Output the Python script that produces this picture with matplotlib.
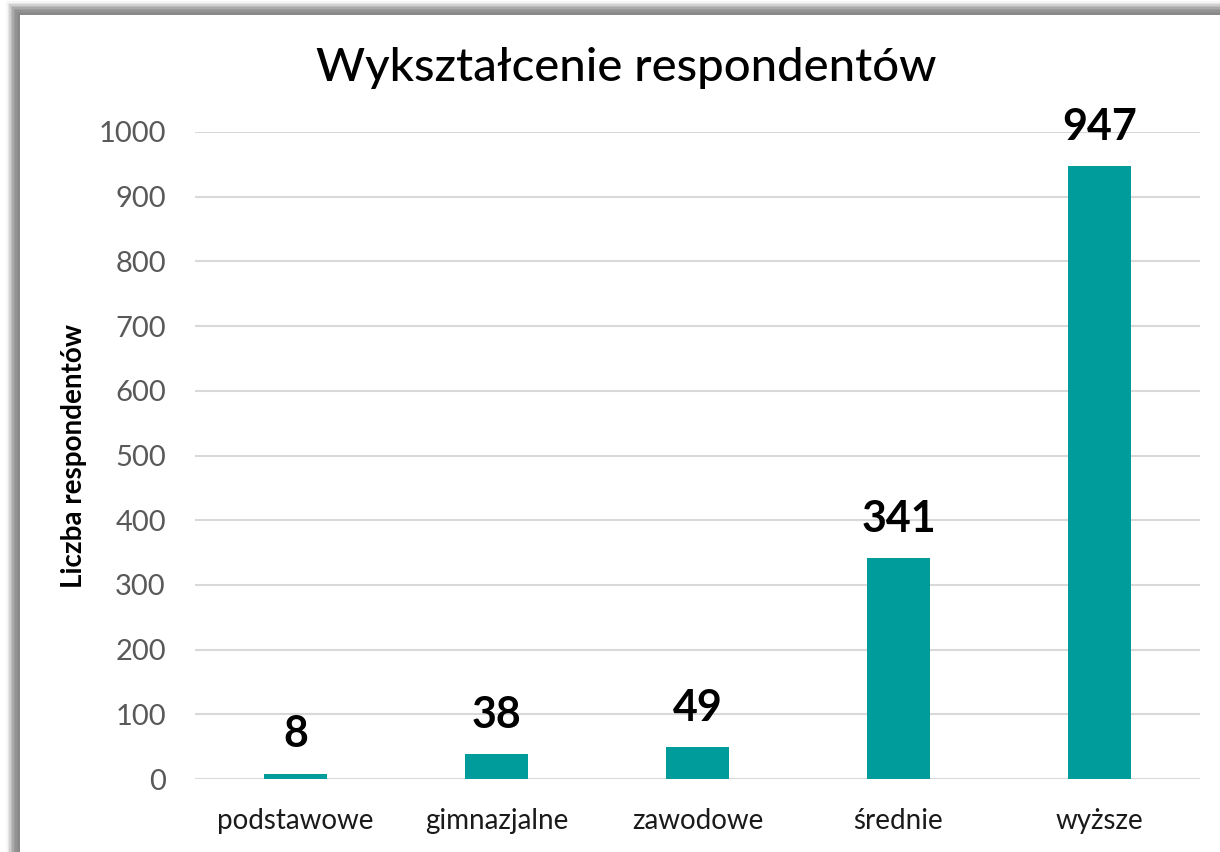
import matplotlib
matplotlib.use('Agg')
import matplotlib.pyplot as plt
from matplotlib.patches import Rectangle

categories = ['podstawowe', 'gimnazjalne', 'zawodowe', 'średnie', 'wyższe']
counts = [8, 38, 49, 341, 947]
y_ticks = [0, 100, 200, 300, 400, 500, 600, 700, 800, 900, 1000]

TEAL = '#009B9B'
GRAY_TXT = '#595959'

plt.rcParams['font.family'] = ['Lato', 'DejaVu Sans']

W, H = 1220, 852
fig = plt.figure(figsize=(W / 100, H / 100), dpi=100)
fig.patch.set_facecolor('white')

# soft gray frame (shadow) on top and left edges
for i, a in enumerate([0.15, 0.3, 0.45, 0.55, 0.6, 0.6, 0.55, 0.45, 0.35]):
    x0 = (6 + i * 1.5) / W
    y_top = 1 - (1 + i * 1.5) / H
    fig.patches.append(Rectangle((x0, 0), 1 - x0, y_top, transform=fig.transFigure,
                                 facecolor=(0.45, 0.45, 0.45, a * 0.4), edgecolor='none', zorder=0))
fig.patches.append(Rectangle((20 / W, 0), 1, 1 - 15 / H, transform=fig.transFigure,
                             facecolor='white', edgecolor='none', zorder=1))

ax = fig.add_axes([195 / W, 1 - 779 / H, 1005 / W, (779 - 132) / H])
ax.set_zorder(5)
ax.set_facecolor('none')
x = range(len(categories))
bars = ax.bar(x, counts, width=0.31, color=TEAL, zorder=3)
ax.set_xlim(-0.5, len(categories) - 0.5)
ax.set_ylim(0, 1000)
ax.set_yticks(y_ticks)
ax.yaxis.grid(True, color='#D9D9D9', linewidth=1.5, zorder=0)
ax.set_axisbelow(True)
for s in ax.spines.values():
    s.set_visible(False)
ax.tick_params(axis='both', length=0)
ax.tick_params(axis='y', labelsize=21, labelcolor=GRAY_TXT, pad=21)
ax.set_xticks(list(x))
ax.set_xticklabels(categories, fontsize=20, color='#1a1a1a')
ax.tick_params(axis='x', pad=21)

for b, v in zip(bars, counts):
    ax.annotate(str(v), (b.get_x() + b.get_width() / 2, v), xytext=(0, 14),
                textcoords='offset points', ha='center', va='bottom',
                fontsize=31, fontweight='bold', color='black', clip_on=False)

ax.set_ylabel('Liczba respondentów', fontsize=20, fontweight='bold')
ax.yaxis.set_label_coords(-108 / 1005, 0.5)

fig.text(626 / W, 1 - 68 / H, 'Wykształcenie respondentów', ha='center', va='center',
         fontsize=34, fontweight='medium', color='black', zorder=6)

fig.savefig('out.png', dpi=100)
